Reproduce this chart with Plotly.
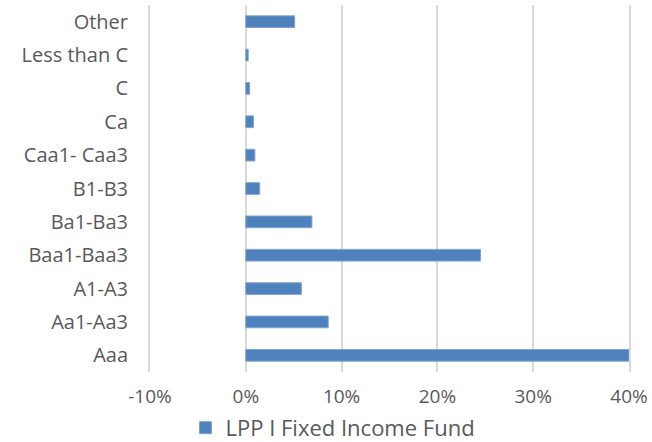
import plotly.graph_objects as go

categories = ["Aaa", "Aa1-Aa3", "A1-A3", "Baa1-Baa3", "Ba1-Ba3", "B1-B3",
              "Caa1- Caa3", "Ca", "C", "Less than C", "Other"]
values = [0.400, 0.086, 0.058, 0.245, 0.069, 0.0145, 0.0095, 0.008, 0.004, 0.0025, 0.051]
series_name = "LPP I Fixed Income Fund"
tick_vals = [-0.1, 0, 0.1, 0.2, 0.3, 0.4]
tick_text = ["-10%", "0%", "10%", "20%", "30%", "40%"]

FONT = "Open Sans"
GRAY = "#595959"
GRID = "#D9D9D9"

fig = go.Figure()
fig.add_trace(go.Bar(
    y=categories, x=values, orientation="h", name=series_name,
    width=0.35,
    marker=dict(color="#4F81BD", line=dict(color="#7FA3D3", width=1)),
    showlegend=True,
))

fig.update_layout(
    width=652, height=442,
    margin=dict(l=150, r=23, t=5, b=70, autoexpand=False),
    paper_bgcolor="white", plot_bgcolor="white",
    font=dict(family=FONT, color=GRAY, size=19),
    showlegend=True,
    legend=dict(orientation="h", x=0.382, xanchor="center", y=-0.095, yanchor="top",
                font=dict(size=22, color=GRAY, family=FONT)),
    xaxis=dict(range=[-0.1, 0.4], tickvals=tick_vals, ticktext=tick_text,
               automargin=False, fixedrange=True,
               showgrid=True, gridcolor=GRID, gridwidth=2,
               zeroline=True, zerolinecolor=GRID, zerolinewidth=2,
               showline=False, ticks="", ticklabelstandoff=11,
               tickfont=dict(size=19, color=GRAY, family=FONT)),
    yaxis=dict(categoryorder="array", categoryarray=categories,
               automargin=False, fixedrange=True,
               showgrid=False, showline=True, linecolor=GRID, linewidth=2, mirror=True,
               ticks="", ticklabelstandoff=16,
               tickfont=dict(size=20, color=GRAY, family=FONT)),
)

fig.write_html("out.html", config={"displayModeBar": False},
               post_script="document.body.style.margin='0px';")
